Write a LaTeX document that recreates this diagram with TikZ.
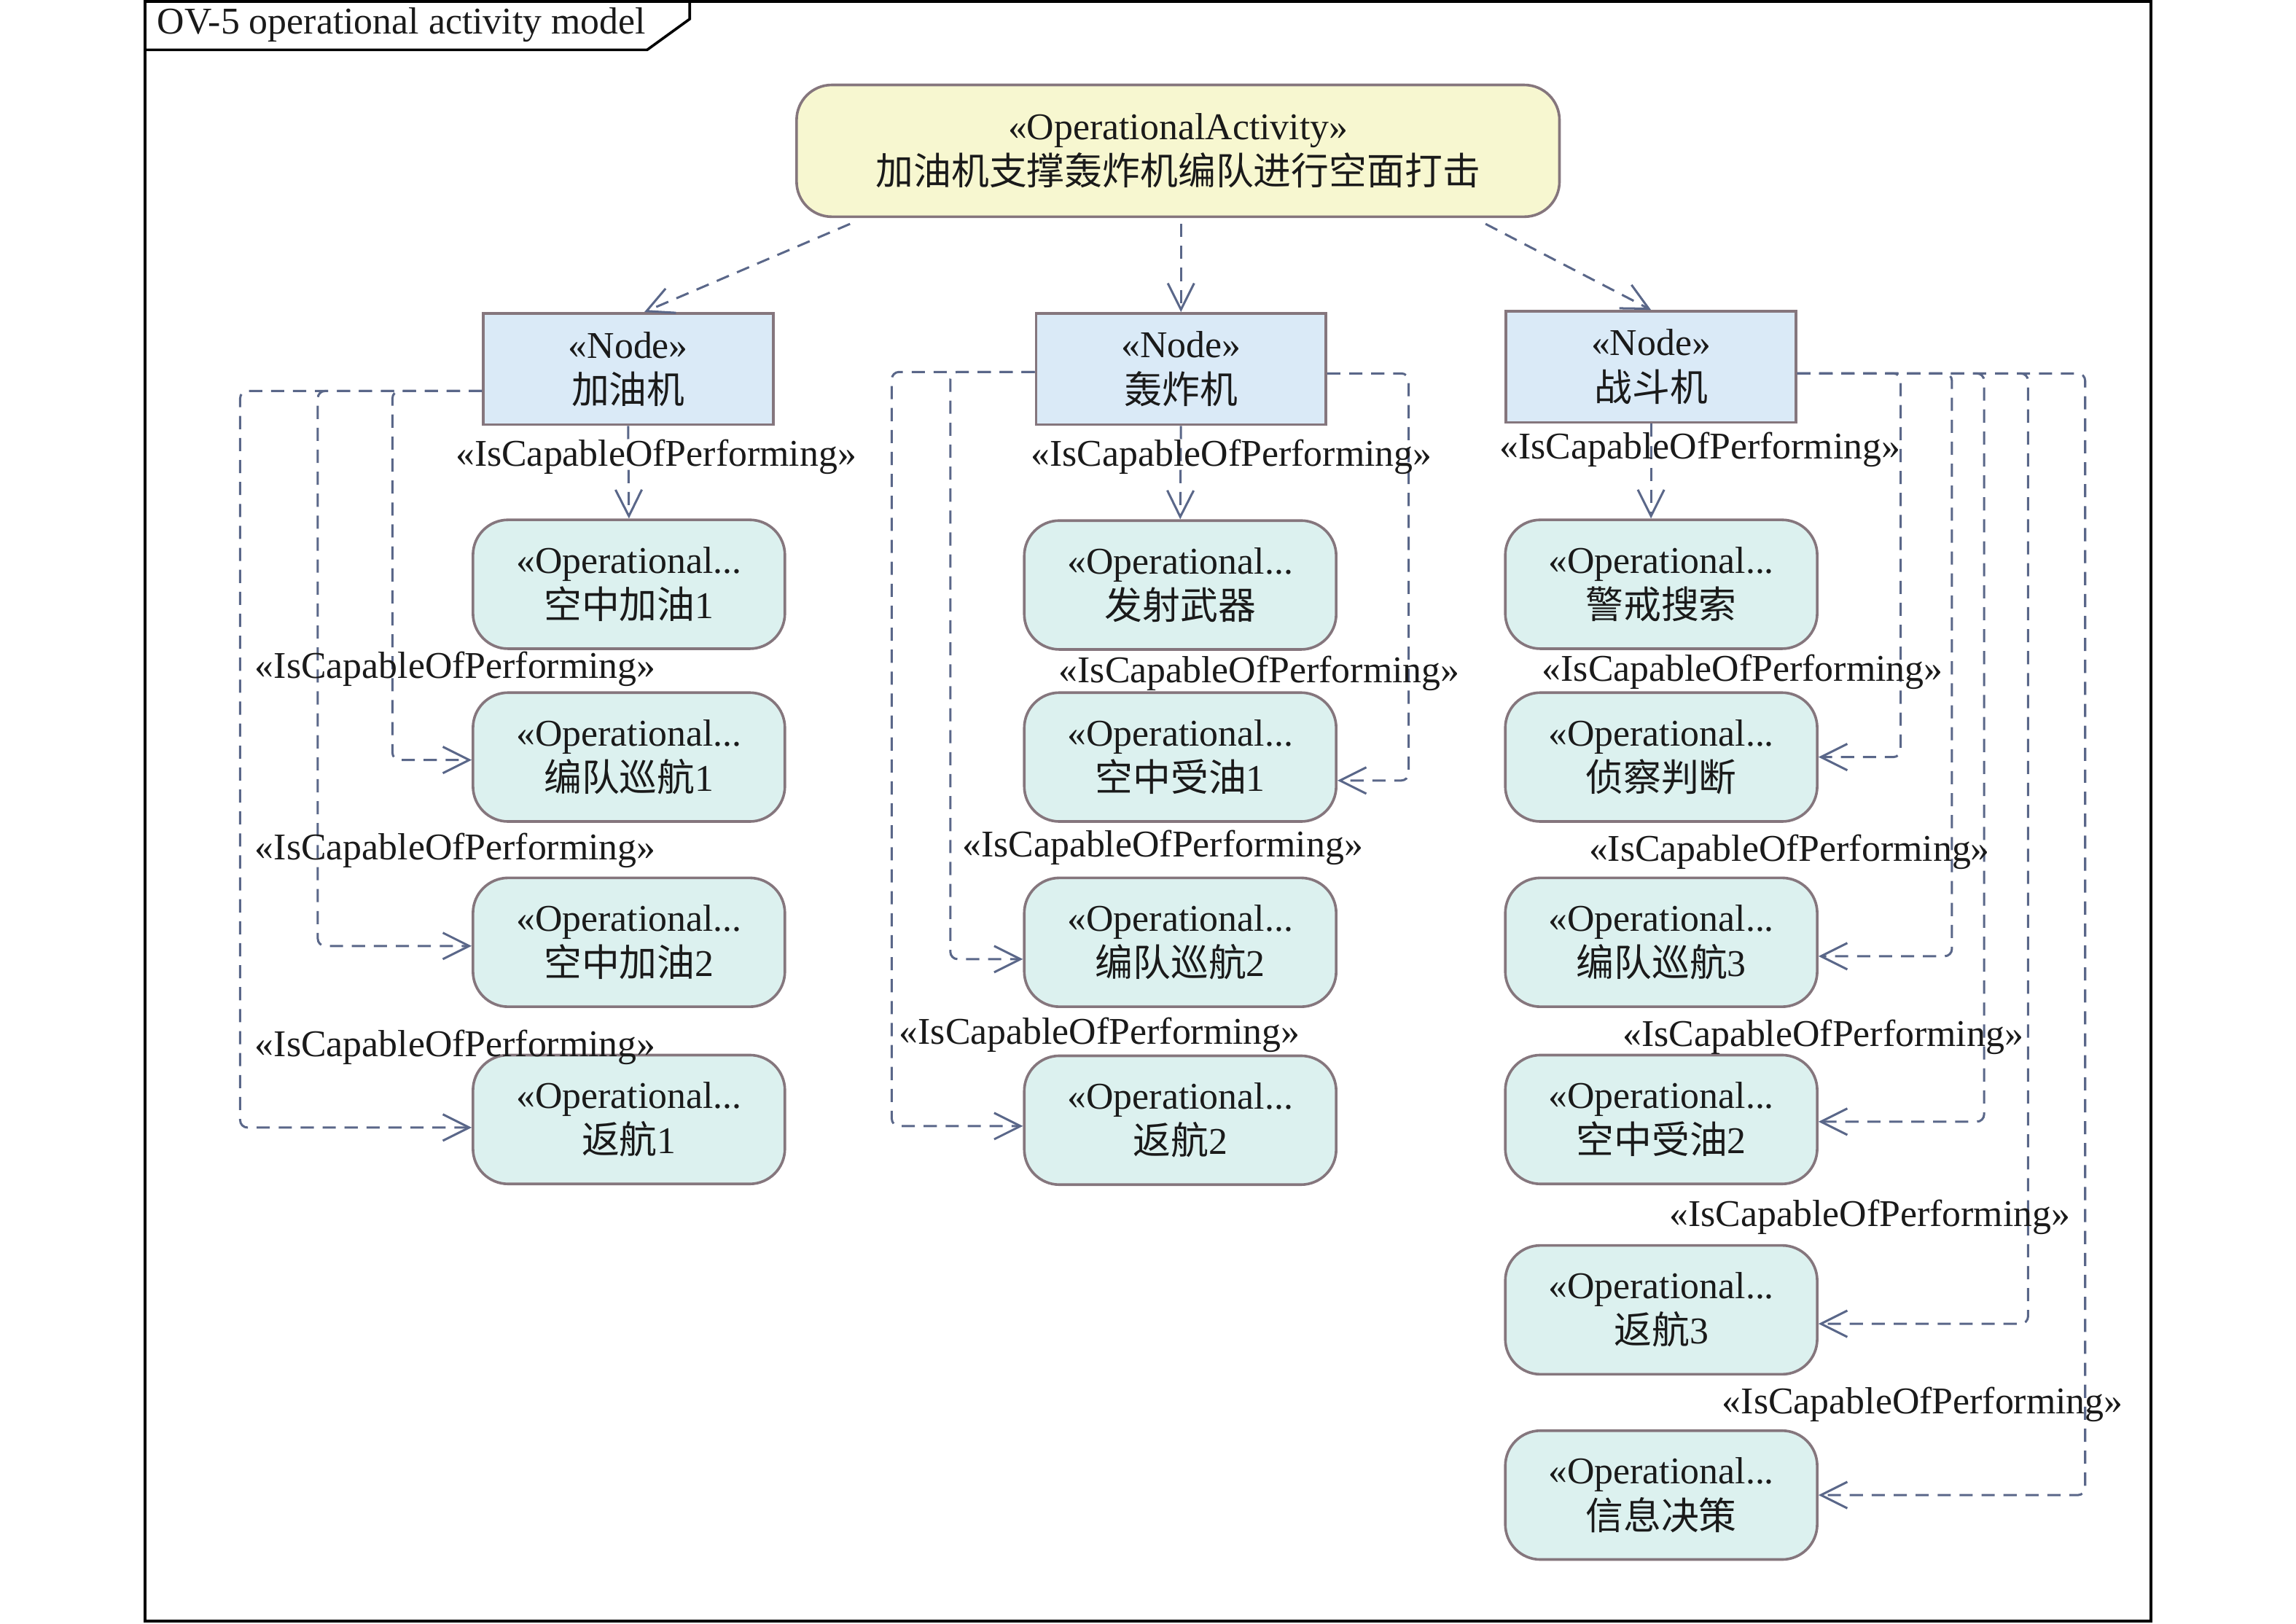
\documentclass[tikz,border=0pt]{standalone}
\usepackage{fontspec}
\setmainfont{Liberation Serif}
\newfontfamily\cjk{Noto Sans CJK SC}
\usetikzlibrary{arrows.meta}
\definecolor{yfill}{HTML}{F7F7D0}
\definecolor{nfill}{HTML}{DAEAF7}
\definecolor{afill}{HTML}{DCF1EF}
\definecolor{bdr}{HTML}{85767D}
\definecolor{cn}{HTML}{5A6789}
\definecolor{txt}{HTML}{1A1A1A}
\begin{document}
\begin{tikzpicture}[x=0.5pt,y=-0.5pt,
  every node/.style={font=\fontsize{12.9}{15.5}\selectfont, text=txt, inner sep=0pt, align=center},
  topact/.style={draw=bdr, fill=yfill, line width=0.9pt, rounded corners=12pt, minimum width=260.5pt, minimum height=45pt},
  opnode/.style={draw=bdr, fill=nfill, line width=0.9pt, minimum width=99pt, minimum height=38pt},
  opact/.style={draw=bdr, fill=afill, line width=0.9pt, rounded corners=12pt, minimum width=106.5pt, minimum height=44pt},
  conn/.style={draw=cn, line width=0.75pt, dash pattern=on 4.5pt off 3pt, rounded corners=2.5pt, -{Straight Barb[length=9pt,width=9pt]}},
  frame/.style={draw=black, line width=0.9pt}
]
\useasboundingbox (0,0) rectangle (1568,1109);
\draw[frame] (99,1) rectangle (1469,1107);
\draw[frame] (99,1) -- (471,1) -- (471,13) -- (442,34) -- (99,34);
\node[anchor=west] (title) at (107,17) {OV-5 operational activity model};

% top activity
\node[topact] (top) at (804.5,103) {«OperationalActivity»\\{\cjk 加油机支撑轰炸机编队进行空面打击}};

% operational nodes
\node[opnode] (jy) at (429,252) {«Node»\\{\cjk 加油机}};
\node[opnode] (hz) at (806.5,252) {«Node»\\{\cjk 轰炸机}};
\node[opnode] (zd) at (1127.5,250.5) {«Node»\\{\cjk 战斗机}};

% column 1
\node[opact] (kzjy1) at (429.5,399) {«Operational...\\{\cjk 空中加油}1};
\node[opact] (bd1) at (429.5,517) {«Operational...\\{\cjk 编队巡航}1};
\node[opact] (kzjy2) at (429.5,643.5) {«Operational...\\{\cjk 空中加油}2};
\node[opact] (fh1) at (429.5,764.5) {«Operational...\\{\cjk 返航}1};
% column 2
\node[opact] (fs) at (806,399.5) {«Operational...\\{\cjk 发射武器}};
\node[opact] (kzsy1) at (806,517) {«Operational...\\{\cjk 空中受油}1};
\node[opact] (bd2) at (806,643.5) {«Operational...\\{\cjk 编队巡航}2};
\node[opact] (fh2) at (806,765) {«Operational...\\{\cjk 返航}2};
% column 3
\node[opact] (jj) at (1134.5,399) {«Operational...\\{\cjk 警戒搜索}};
\node[opact] (zc) at (1134.5,517) {«Operational...\\{\cjk 侦察判断}};
\node[opact] (bd3) at (1134.5,643.5) {«Operational...\\{\cjk 编队巡航}3};
\node[opact] (kzsy2) at (1134.5,764.5) {«Operational...\\{\cjk 空中受油}2};
\node[opact] (fh3) at (1134.5,894.5) {«Operational...\\{\cjk 返航}3};
\node[opact] (xx) at (1134.5,1021) {«Operational...\\{\cjk 信息决策}};

% top connectors
\draw[conn] ([xshift=-112pt,yshift=-2pt]top.south) -- ([xshift=5.5pt]jy.north);
\draw[conn] ([yshift=-2pt]top.south -| hz.north) -- (hz.north);
\draw[conn] ([xshift=105pt,yshift=-2pt]top.south) -- (zd.north);

% column 1 connectors
\draw[conn] (jy.south) -- (kzjy1.north);
\draw[conn] (jy.west |- 0,267) -- (268,267) |- (bd1.west |- 0,519);
\draw[conn] (jy.west |- 0,267) -- (217,267) |- (kzjy2.west |- 0,646);
\draw[conn] (jy.west |- 0,267) -- (164,267) |- (fh1.west |- 0,770);

% column 2 connectors
\draw[conn] (hz.south) -- (fs.north);
\draw[conn] (hz.east |- 0,255) -- (962,255) |- (kzsy1.east |- 0,533);
\draw[conn] (hz.west |- 0,254) -- (649,254) |- (bd2.west |- 0,655);
\draw[conn] (hz.west |- 0,254) -- (609,254) |- (fh2.west |- 0,769);

% column 3 connectors
\draw[conn] (zd.south) -- (zd.south |- jj.north);
\draw[conn] (zd.east |- 0,255) -- (1298,255) |- (zc.east |- 0,517);
\draw[conn] (zd.east |- 0,255) -- (1333,255) |- (bd3.east |- 0,653);
\draw[conn] (zd.east |- 0,255) -- (1355,255) |- (kzsy2.east |- 0,766);
\draw[conn] (zd.east |- 0,255) -- (1385,255) |- (fh3.east |- 0,904);
\draw[conn] (zd.east |- 0,255) -- (1424,255) |- (xx.east |- 0,1021);

% labels
\node (l1) at (448,312) {«IsCapableOfPerforming»};
\node (l2) at (311,457) {«IsCapableOfPerforming»};
\node (l3) at (311,581) {«IsCapableOfPerforming»};
\node (l4) at (311,715) {«IsCapableOfPerforming»};
\node (l5) at (841,312) {«IsCapableOfPerforming»};
\node (l6) at (860,460) {«IsCapableOfPerforming»};
\node (l7) at (794,579) {«IsCapableOfPerforming»};
\node (l8) at (751,707) {«IsCapableOfPerforming»};
\node (l9) at (1161,307) {«IsCapableOfPerforming»};
\node (l10) at (1190,459) {«IsCapableOfPerforming»};
\node (l11) at (1222,582) {«IsCapableOfPerforming»};
\node (l12) at (1245,708) {«IsCapableOfPerforming»};
\node (l13) at (1277,831) {«IsCapableOfPerforming»};
\node (l14) at (1313,959) {«IsCapableOfPerforming»};
\end{tikzpicture}
\end{document}
